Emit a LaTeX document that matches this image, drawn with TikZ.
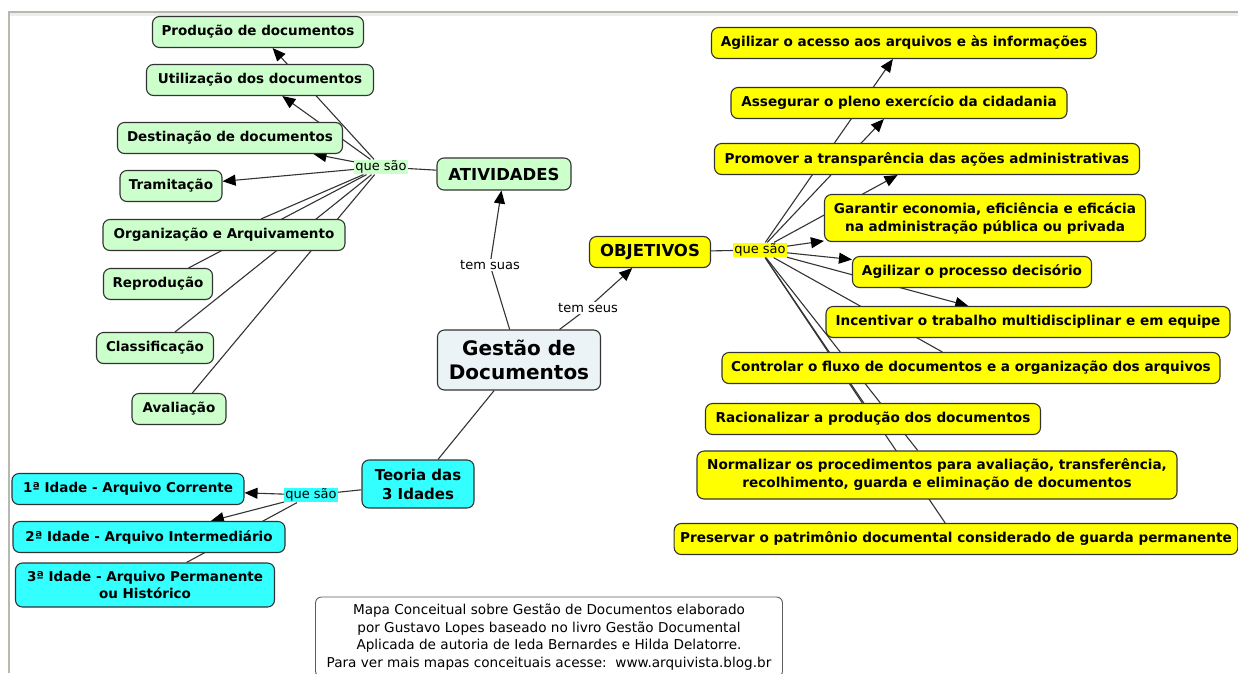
\documentclass[tikz,border=0pt]{standalone}
\usepackage{fontspec}
\setmainfont{DejaVu Sans}
\usetikzlibrary{arrows.meta, positioning}
\definecolor{mapgreen}{HTML}{CCFFCC}
\definecolor{mapyellow}{HTML}{FFFF00}
\definecolor{mapcyan}{HTML}{33FFFF}
\definecolor{mapcentre}{HTML}{EBF3F7}
\definecolor{mapline}{HTML}{333333}
\definecolor{mapframe}{HTML}{B8B8B0}
\pgfdeclarelayer{background}
\pgfsetlayers{background,main}

\begin{document}
\begin{tikzpicture}[x=1pt, y=-1pt,
    box/.style={draw=mapline, rounded corners=7pt, line width=1.1pt, minimum height=31pt, inner xsep=6pt, align=center, font=\fontsize{13.5}{17}\selectfont\bfseries},
    greenbox/.style={box, fill=mapgreen},
    yellowbox/.style={box, fill=mapyellow, font=\fontsize{13.6}{18}\selectfont\bfseries},
    cyanbox/.style={box, fill=mapcyan},
    bigbox/.style={box, font=\fontsize{15}{19}\selectfont\bfseries},
    phrase/.style={inner sep=1pt, font=\fontsize{13}{15}\selectfont},
    link/.style={draw=mapline, line width=1.1pt},
    arr/.style={link, -{Triangle[length=13pt, width=11pt, color=black]}}
]
    \useasboundingbox (0,0) rectangle (1238,673);
    % window frame
    \fill[mapframe!25] (9,12) rectangle (1238,16);
    \draw[mapframe, line width=1.2pt] (9,673) -- (9,12) -- (1238,12);

    % centre
    \node[box, fill=mapcentre, minimum width=163pt, minimum height=60pt, font=\fontsize{20}{24}\selectfont\bfseries] (gestao) at (519,360) {Gestão de\\Documentos};
    \node[phrase, fill=white] (temsuas) at (490,265) {tem suas};
    \node[phrase, fill=white] (temseus) at (588,308) {tem seus};

    % atividades
    \node[bigbox, fill=mapgreen, minimum width=134pt, minimum height=32pt, font=\fontsize{16.5}{19}\selectfont\bfseries] (ativ) at (504,174) {ATIVIDADES};
    \node[phrase, fill=mapgreen] (queativ) at (381,167) {que são};
    \node[greenbox, minimum width=211pt] (prod) at (258,32) {Produção de documentos};
    \node[greenbox, minimum width=227pt] (util) at (260,80) {Utilização dos documentos};
    \node[greenbox, minimum width=225pt] (dest) at (230,138) {Destinação de documentos};
    \node[greenbox, minimum width=102pt] (tram) at (171,186) {Tramitação};
    \node[greenbox, minimum width=242pt] (org) at (224,235) {Organização e Arquivamento};
    \node[greenbox, minimum width=109pt] (repr) at (158,284) {Reprodução};
    \node[greenbox, minimum width=117pt] (class) at (155,348) {Classificação};
    \node[greenbox, minimum width=94pt] (aval) at (179,409) {Avaliação};

    % objetivos
    \node[bigbox, fill=mapyellow, minimum width=121pt, font=\fontsize{16.5}{19}\selectfont\bfseries] (obj) at (650,252) {OBJETIVOS};
    \node[phrase, fill=mapyellow] (queobj) at (760,250) {que são};
    \node[yellowbox, minimum width=385pt] (acesso) at (904,43) {Agilizar o acesso aos arquivos e às informações};
    \node[yellowbox, minimum width=336pt] (cidad) at (899,103) {Assegurar o pleno exercício da cidadania};
    \node[yellowbox, minimum width=425pt] (transp) at (927,159) {Promover a transparência das ações administrativas};
    \node[yellowbox, minimum width=321pt, minimum height=47pt] (econ) at (985,218) {Garantir economia, eficiência e eficácia\\na administração pública ou privada};
    \node[yellowbox, minimum width=239pt] (decis) at (972,272) {Agilizar o processo decisório};
    \node[yellowbox, minimum width=404pt] (equipe) at (1028,322) {Incentivar o trabalho multidisciplinar e em equipe};
    \node[yellowbox, minimum width=498pt] (fluxo) at (971,368) {Controlar o fluxo de documentos e a organização dos arquivos};
    \node[yellowbox, minimum width=335pt] (racio) at (873,419) {Racionalizar a produção dos documentos};
    \node[yellowbox, minimum width=480pt, minimum height=48pt] (norma) at (937,475) {Normalizar os procedimentos para avaliação, transferência,\\recolhimento, guarda e eliminação de documentos};
    \node[yellowbox, minimum width=561pt] (patri) at (956,539) {Preservar o patrimônio documental considerado de guarda permanente};

    % teoria das 3 idades
    \node[bigbox, fill=mapcyan, minimum width=112pt, minimum height=48pt] (teoria) at (418,484) {Teoria das\\3 Idades};
    \node[phrase, fill=mapcyan] (queteo) at (311,495) {que são};
    \node[cyanbox, minimum width=232pt] (idade1) at (128,489) {1ª Idade - Arquivo Corrente};
    \node[cyanbox, minimum width=272pt] (idade2) at (149,537) {2ª Idade - Arquivo Intermediário};
    \node[cyanbox, minimum width=259pt, minimum height=44pt] (idade3) at (145,585) {3ª Idade - Arquivo Permanente\\ou Histórico};

    % note
    \node[draw=mapline!80, rounded corners=6pt, line width=0.9pt, minimum width=467pt, minimum height=80pt, align=center, font=\fontsize{13.6}{17.7}\selectfont] (nota) at (549,637) {Mapa Conceitual sobre Gestão de Documentos elaborado\\por Gustavo Lopes baseado no livro Gestão Documental\\Aplicada de autoria de Ieda Bernardes e Hilda Delatorre.\\Para ver mais mapas conceituais acesse:\ \ www.arquivista.blog.br};

    \begin{pgfonlayer}{background}
        \draw[link] (gestao) -- (temsuas);
        \draw[arr] (temsuas) -- (ativ);
        \draw[link] (gestao) -- (temseus);
        \draw[arr] (temseus) -- (obj);
        \draw[link] (gestao) -- (teoria);

        \draw[link] (ativ) -- (queativ);
        \foreach \t in {prod, util, dest, tram}
            \draw[arr] (queativ) -- (\t);
        \foreach \t in {org, repr, class, aval}
            \draw[link] (queativ) -- (\t);

        \draw[link] (obj) -- (queobj);
        \foreach \t in {acesso, cidad, transp, econ, decis, equipe}
            \draw[arr] (queobj) -- (\t);
        \foreach \t in {fluxo, racio, norma, patri}
            \draw[link] (queobj) -- (\t);

        \draw[link] (teoria) -- (queteo);
        \draw[arr] (queteo) -- (idade1);
        \draw[arr] (queteo) -- (idade2);
        \draw[link] (queteo) -- (idade3);
    \end{pgfonlayer}
\end{tikzpicture}
\end{document}
